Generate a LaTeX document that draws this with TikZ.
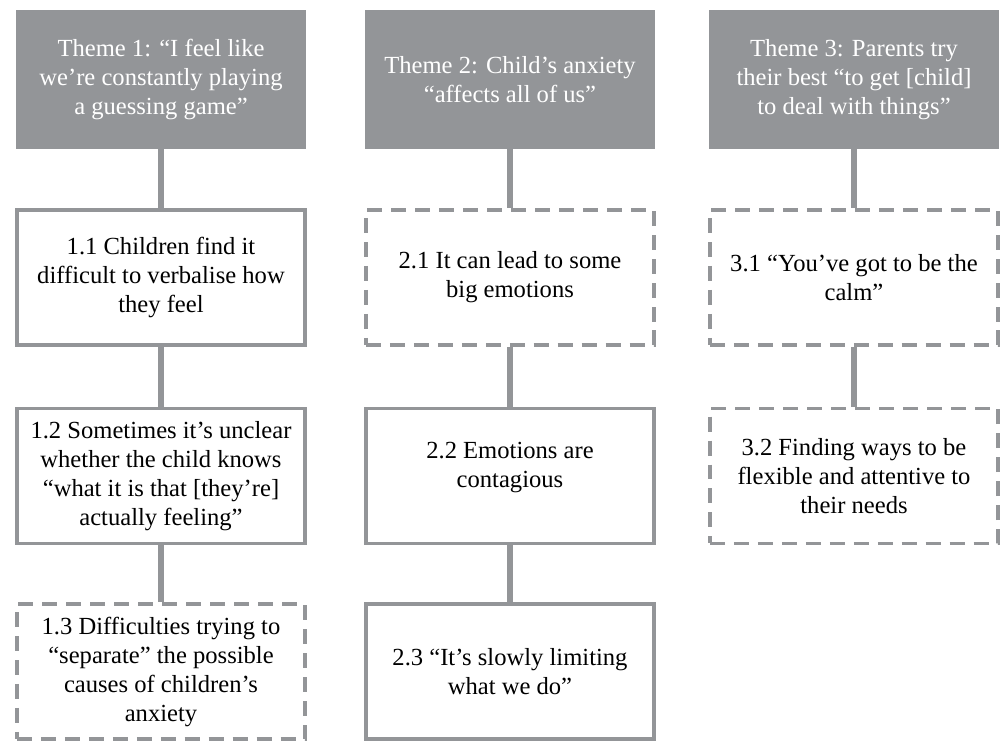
\documentclass[tikz,border=0pt]{standalone}
\usepackage{fontspec}
\setmainfont{Liberation Serif}
\definecolor{boxgray}{RGB}{147,149,152}

\begin{document}
\begin{tikzpicture}[x=0.02cm,y=-0.02cm]
  \tikzset{
    theme/.style={fill=boxgray,text=white,minimum width=5.8cm,minimum height=2.78cm,
      inner sep=0pt,align=center,font=\fontsize{14}{16.5}\selectfont},
    sub/.style={draw=boxgray,line width=0.07cm,fill=white,minimum width=5.77cm,
      minimum height=2.7cm,inner sep=0pt,align=center,font=\fontsize{14}{16.5}\selectfont},
    open/.style={sub,dash pattern=on 0.3cm off 0.18cm},
    link/.style={draw=boxgray,line width=0.12cm}
  }
  \useasboundingbox (0,0) rectangle (1001,741);

  % themes
  \node[theme] (t1) at (161,79.5) {Theme 1: “I feel like\\we’re constantly playing\\a guessing game”};
  \node[theme] (t2) at (510,79.5) {Theme 2: Child’s anxiety\\“affects all of us”};
  \node[theme] (t3) at (854,79.5) {Theme 3: Parents try\\their best “to get [child]\\to deal with things”};

  % subthemes
  \node[sub]  (s11) at (161,277.5) {1.1 Children find it\\difficult to verbalise how\\they feel};
  \node[sub]  (s12) at (161,476) {1.2 Sometimes it’s unclear\\whether the child knows\\“what it is that [they’re]\\actually feeling”};
  \node[open] (s13) at (161,671.5) {1.3 Difficulties trying to\\“separate” the possible\\causes of children’s\\anxiety};

  \node[open] (s21) at (510,277.5) {2.1 It can lead to some\\big emotions};
  \node[sub]  (s22) at (510,476) {2.2 Emotions are\\contagious\\[-4pt]\mbox{}};
  \node[sub]  (s23) at (510,671.5) {2.3 “It’s slowly limiting\\what we do”};

  \node[open] (s31) at (854,277.5) {3.1 “You’ve got to be the\\calm”};
  \node[open] (s32) at (854,476) {3.2 Finding ways to be\\flexible and attentive to\\their needs};

  % links
  \draw[link] (t1) -- (s11);
  \draw[link] (s11) -- (s12);
  \draw[link] (s12) -- (s13);
  \draw[link] (t2) -- (s21);
  \draw[link] (s21) -- (s22);
  \draw[link] (s22) -- (s23);
  \draw[link] (t3) -- (s31);
  \draw[link] (s31) -- (s32);
\end{tikzpicture}
\end{document}
